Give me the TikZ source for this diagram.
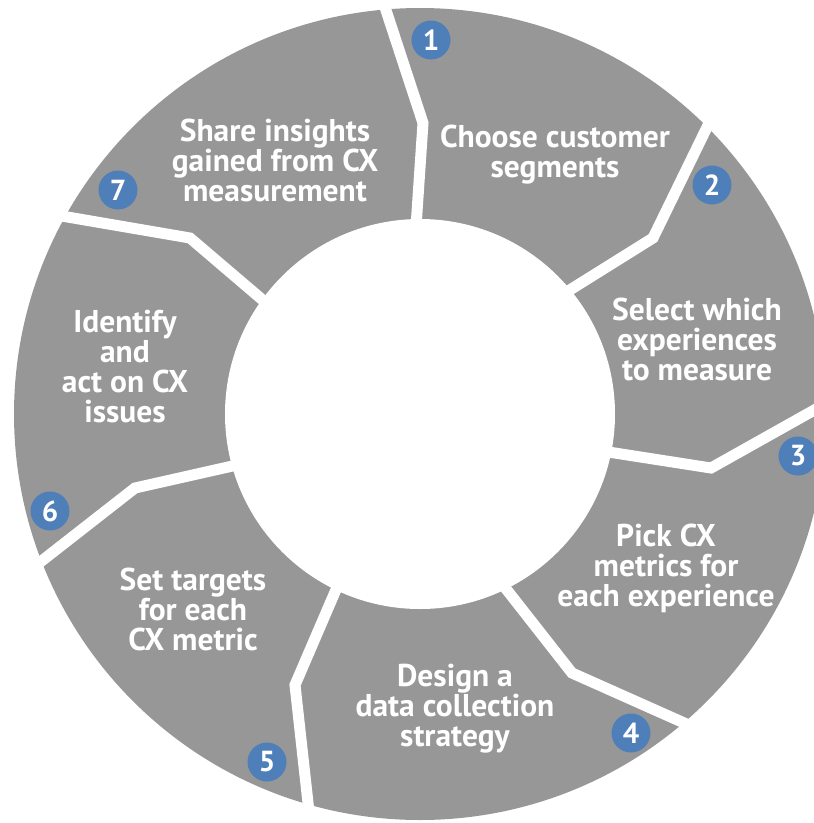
\documentclass[tikz,border=0pt]{standalone}
\usepackage{fontspec}
\setmainfont{PT Sans}
\usetikzlibrary{positioning}
\definecolor{ringgray}{RGB}{151,151,151}
\definecolor{stepblue}{RGB}{79,127,184}

\begin{document}
\begin{tikzpicture}[x=1pt,y=-1pt,
    steptext/.style={text=white, align=center, font=\bfseries\fontsize{31.5}{30}\selectfont},
    stepnum/.style={circle, fill=stepblue, minimum size=39pt, inner sep=0pt, text=white, font=\bfseries\fontsize{29}{29}\selectfont},
    gap/.style={white, line width=11pt, line join=miter}]
    \useasboundingbox (0,0) rectangle (814,823);
    \clip (0,0) rectangle (814,823);

    \coordinate (c) at (420,414); % centre of the ring

    % The ring itself
    \fill[ringgray] (c) circle (406);
    \fill[white] (c) circle (195);

    % White dividers: outer end, kink, inner end
    \foreach \ox/\oy/\kx/\ky/\ix/\iy in {381/-5/423/123/416/227,
        712/117/653/238/565/293,
        850/390/711/468/602/451,
        700/730/572/673/503/585,
        311/830/295/685/338/585,
        25/574/135/488/237/465,
        50/214/190/238/265/302}{
        \draw[gap] (\ox,\oy) -- (\kx,\ky) -- (\ix,\iy);
    }

    % Step texts
    \node[steptext] (choose) at (555,155) {Choose customer\\segments};
    \node[steptext] (select) at (697,339) {Select which\\experiences\\to measure};
    \node[steptext] (pick) at (666,568) {Pick CX\\metrics for\\each experience};
    \node[steptext] (design) at (455,709) {Design a\\data collection\\strategy};
    \node[steptext] (targets) at (193,609) {Set targets\\for each\\CX metric};
    \node[steptext] (identify) at (125,367) {Identify\\and\\act on CX\\issues};
    \node[steptext] (share) at (275,160) {Share insights\\gained from CX\\measurement};

    % Step numbers
    \foreach \n/\x/\y in {1/431/40, 2/712/185, 3/798/456, 4/631/733,
        5/267/762, 6/50/511, 7/118/190}{
        \node[stepnum] (num\n) at (\x,\y) {\n};
    }
\end{tikzpicture}
\end{document}
